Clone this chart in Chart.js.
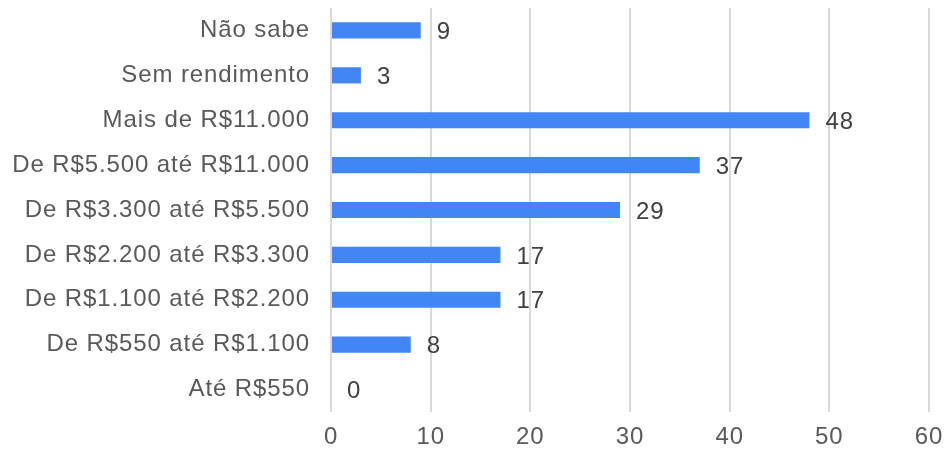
<!DOCTYPE html>
<html>
<head>
<meta charset="utf-8">
<script src="https://cdn.jsdelivr.net/npm/chart.js@4/dist/chart.umd.min.js"></script>
<style>
  html, body { margin: 0; padding: 0; background: #fff; }
  #wrap { width: 944px; height: 455px; position: relative; }
</style>
</head>
<body>
<div id="wrap"><canvas id="chartRenda"></canvas></div>
<script>
'use strict'

var categorias = ['Não sabe', 'Sem rendimento', 'Mais de R$11.000', 'De R$5.500 até R$11.000',
    'De R$3.300 até R$5.500', 'De R$2.200 até R$3.300', 'De R$1.100 até R$2.200',
    'De R$550 até R$1.100', 'Até R$550'];
var valores = [9, 3, 48, 37, 29, 17, 17, 8, 0];
var ticksX = [0, 10, 20, 30, 40, 50, 60];

var fonte = '"Liberation Sans", Arial, sans-serif';

// texto um pouco mais largo, como no original
var espacamento = {
    id: 'espacamento',
    beforeLayout: function (chart) { chart.ctx.letterSpacing = '0.9px'; },
    beforeDraw: function (chart) { chart.ctx.letterSpacing = '0.9px'; }
};

// rótulos de valor ao lado das barras
var rotulos = {
    id: 'rotulos',
    afterDatasetsDraw: function (chart) {
        var ctx = chart.ctx;
        var meta = chart.getDatasetMeta(0);
        ctx.save();
        ctx.font = '24px ' + fonte;
        ctx.fillStyle = '#404040';
        ctx.textAlign = 'left';
        ctx.textBaseline = 'middle';
        meta.data.forEach(function (bar, i) {
            ctx.fillText(String(valores[i]), bar.x + 16, bar.y + 2);
        });
        ctx.restore();
    }
};

var ctx = document.getElementById('chartRenda');
var chart = new Chart(ctx, {
    type: 'bar',
    data: {
        labels: categorias,
        datasets: [{
            data: valores,
            backgroundColor: '#4285F4',
            borderWidth: 0,
            barPercentage: 0.72,
            categoryPercentage: 0.5
        }]
    },
    options: {
        indexAxis: 'y',
        responsive: true,
        maintainAspectRatio: false,
        animation: false,
        layout: { padding: { top: 8, right: 15, left: 0, bottom: 0 } },
        plugins: {
            legend: { display: false },
            tooltip: { enabled: false }
        },
        scales: {
            x: {
                min: 0,
                max: 60,
                afterBuildTicks: function (scale) {
                    scale.ticks = ticksX.map(function (v) { return { value: v }; });
                },
                afterFit: function (scale) {
                    scale.height = 43;
                    scale.paddingLeft = 0;
                    scale.paddingRight = 0;
                },
                grid: { color: '#d9d9d9', lineWidth: 2, drawTicks: false },
                border: { display: false },
                ticks: {
                    padding: 11,
                    color: '#595959',
                    font: { family: fonte, size: 24 }
                }
            },
            y: {
                afterFit: function (scale) {
                    scale.width = 331;
                    scale.paddingTop = 0;
                    scale.paddingBottom = 0;
                },
                grid: { display: false, drawTicks: false },
                border: { display: false },
                ticks: {
                    padding: 21,
                    color: '#595959',
                    font: { family: fonte, size: 24 }
                }
            }
        }
    },
    plugins: [espacamento, rotulos]
});
</script>
</body>
</html>
